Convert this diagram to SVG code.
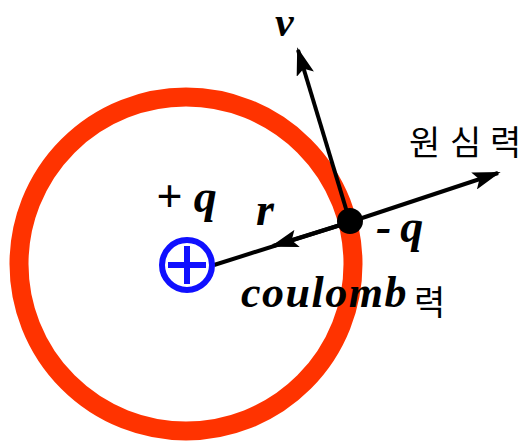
<svg xmlns="http://www.w3.org/2000/svg" width="527" height="442" viewBox="0 0 527 442">
<defs>
<style>
.lbl{font-family:"Liberation Serif","Times New Roman",serif;font-style:italic;font-weight:bold;fill:#000}
.kr{font-family:"Noto Sans CJK KR","Noto Sans",sans-serif;fill:#000}
.ln{stroke:#000;stroke-width:4;fill:none}
</style>
<marker id="ah" viewBox="0 0 10 10" refX="9" refY="5" markerWidth="7" markerHeight="4.5" markerUnits="strokeWidth" orient="auto" preserveAspectRatio="none">
<path d="M0,0 L10,5 L0,10 L2,5 Z" fill="#000"/>
</marker>
</defs>
<rect width="527" height="442" fill="#fff"/>
<g id="orbit"><circle cx="186" cy="264" r="167" fill="none" stroke="#ff3300" stroke-width="19"/></g>
<g id="connectors">
<line class="ln" x1="214" y1="265" x2="350" y2="222"/>
<line class="ln" x1="350" y1="222" x2="273" y2="246" marker-end="url(#ah)"/>
<line class="ln" x1="350" y1="222" x2="498" y2="173" marker-end="url(#ah)"/>
<line class="ln" x1="350" y1="222" x2="298" y2="50" marker-end="url(#ah)"/>
</g>
<g id="nucleus">
<circle cx="187" cy="265" r="25" fill="none" stroke="#1010ff" stroke-width="6"/>
<line x1="168" y1="265" x2="206" y2="265" stroke="#1010ff" stroke-width="6"/>
<line x1="187" y1="246" x2="187" y2="284" stroke="#1010ff" stroke-width="6"/>
</g>
<g id="electron"><circle cx="350" cy="221" r="13" fill="#000"/></g>
<g id="labels">
<text class="lbl" x="275" y="36" font-size="42">v</text>
<text class="lbl" x="156" y="212" font-size="46">+ q</text>
<text class="lbl" x="256" y="225" font-size="46">r</text>
<text class="lbl" x="376" y="242" font-size="46">-<tspan dx="9">q</tspan></text>
<text class="lbl" x="241" y="307" font-size="44" letter-spacing="1.5">coulomb</text>
<text class="kr" x="414" y="315" font-size="34">력</text>
<text class="kr" x="409 450 490" y="155" font-size="34">원심력</text>
</g>
</svg>
